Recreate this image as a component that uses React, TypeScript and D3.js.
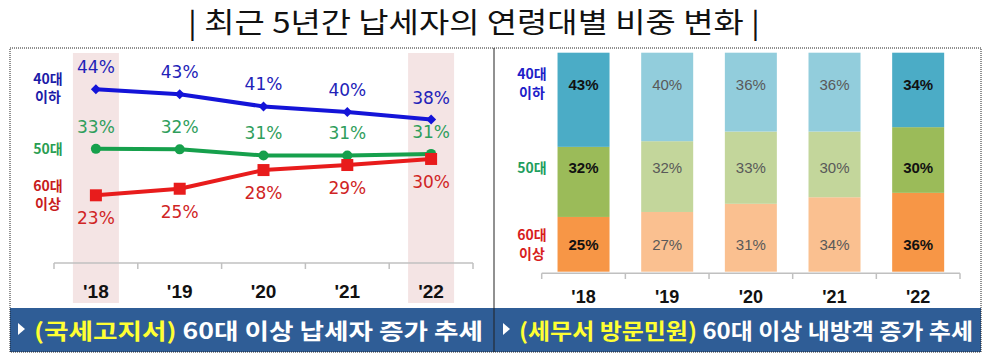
import React from "react";
import * as d3 from "d3";

// ---------- data ----------
const years = ["'18", "'19", "'20", "'21", "'22"];

// left chart: 국세고지서 share by age group (plotted values)
const lineUnder40 = [44, 43, 40.6, 39.5, 38];
const line50s = [32.2, 32.1, 30.9, 30.9, 31.2];
const line60plus = [23, 24.3, 28, 29, 30.2];
const labelUnder40 = ["44%", "43%", "41%", "40%", "38%"];
const label50s = ["33%", "32%", "31%", "31%", "31%"];
const label60plus = ["23%", "25%", "28%", "29%", "30%"];

// right chart: 세무서 방문민원 share by age group
const barUnder40 = [43, 40, 36, 36, 34];
const bar50s = [32, 32, 33, 30, 30];
const bar60plus = [25, 27, 31, 34, 36];

const highlightYears = ["'18", "'22"];

const titleText = "| 최근 5년간 납세자의 연령대별 비중 변화 |";
const footLeftYellow = "(국세고지서)";
const footLeftWhite = " 60대 이상 납세자 증가 추세";
const footRightYellow = "(세무서 방문민원)";
const footRightWhite = " 60대 이상 내방객 증가 추세";

// ---------- styles ----------
const KR = "'Noto Sans CJK KR', 'Noto Sans', sans-serif";
const NUM = "'DejaVu Sans', sans-serif";
const AR = "'Liberation Sans', Arial, sans-serif";
const FOOT_BG = "#2f5d96";
const SHADE = "#f4e4e4";
const AXIS = "#c0c0c0";

const seriesLeft = [
  { key: "u40", values: lineUnder40, labels: labelUnder40, line: "#1414d8", text: "#2222b8", marker: "diamond", above: true },
  { key: "s50", values: line50s, labels: label50s, line: "#16a04c", text: "#2f9e5c", marker: "circle", above: true },
  { key: "p60", values: line60plus, labels: label60plus, line: "#e81c1c", text: "#d02424", marker: "square", above: false },
];

const barColors = {
  dark: ["#f79646", "#9bbb59", "#4bacc6"],
  light: ["#fac090", "#c3d69b", "#92cddc"],
};

export default function App() {
  // ----- left chart scales -----
  const xL = d3.scaleBand<string>().domain(years).range([54, 473]).padding(0);
  const yL = d3.scaleLinear().domain([23, 44]).range([195.3, 89.3]);
  const lineGen = d3
    .line<number>()
    .x((_, i) => (xL(years[i]) as number) + xL.bandwidth() / 2)
    .y((d) => yL(d));
  const axisYL = 263;

  // ----- right chart scales -----
  const xR = d3.scaleBand<string>().domain(years).range([541.7, 960]).padding(0);
  const barW = 52;
  const yR = d3.scaleLinear().domain([0, 1]).range([271.7, 52.7]);
  const table = years.map((y, i) => ({ year: y, p60: bar60plus[i], s50: bar50s[i], u40: barUnder40[i] }));
  const stack = d3.stack<any>().keys(["p60", "s50", "u40"]).offset(d3.stackOffsetExpand);
  const stacked = stack(table);
  const barLabelRows = [244, 167.3, 84.3]; // p60, s50, u40 label rows
  const barLabels = [bar60plus, bar50s, barUnder40];

  const cxL = (i: number) => (xL(years[i]) as number) + xL.bandwidth() / 2;
  const cxR = (i: number) => (xR(years[i]) as number) + xR.bandwidth() / 2;

  const marker = (type: string, x: number, y: number, color: string, k: string) => {
    if (type === "diamond") {
      const s = 5;
      return <path key={k} d={`M${x},${y - s}L${x + s},${y}L${x},${y + s}L${x - s},${y}Z`} fill={color} />;
    }
    if (type === "circle") return <circle key={k} cx={x} cy={y} r={5} fill={color} />;
    return <rect key={k} x={x - 6} y={y - 6} width={12} height={12} fill={color} />;
  };

  return (
    <svg width={988} height={358} style={{ position: "absolute", left: 0, top: 0, background: "#fff" }}>
      <rect x={0} y={0} width={988} height={358} fill="#fff" />
      {/* title */}
      <text x={474} y={21} textAnchor="middle" dominantBaseline="central" fontFamily={KR} fontSize={28} fill="#111" textLength={572} lengthAdjust="spacingAndGlyphs">
        {titleText}
      </text>

      {/* ===== left panel ===== */}
      {highlightYears.map((y) => (
        <rect key={"sh" + y} x={(xL(y) as number) + xL.bandwidth() / 2 - 23} y={53} width={46} height={250} fill={SHADE} />
      ))}
      {/* axis */}
      <line x1={xL.range()[0]} x2={xL.range()[1]} y1={axisYL} y2={axisYL} stroke={AXIS} strokeWidth={1.5} />
      {years.map((y) => (
        <line key={"tl" + y} x1={xL(y)} x2={xL(y)} y1={axisYL} y2={axisYL + 6} stroke={AXIS} strokeWidth={1.5} />
      ))}
      <line x1={xL.range()[1]} x2={xL.range()[1]} y1={axisYL} y2={axisYL + 6} stroke={AXIS} strokeWidth={1.5} />
      {years.map((y, i) => (
        <text key={"yl" + y} x={cxL(i)} y={291} textAnchor="middle" dominantBaseline="central" fontFamily={AR} fontWeight="bold" fontSize={19} fill="#111">
          {y}
        </text>
      ))}
      {/* lines */}
      {seriesLeft.map((s) => (
        <g key={s.key}>
          <path d={lineGen(s.values) || ""} fill="none" stroke={s.line} strokeWidth={4} strokeLinejoin="round" />
          {s.values.map((v, i) => marker(s.marker, cxL(i), yL(v), s.line, s.key + i))}
          {s.values.map((v, i) => (
            <text key={s.key + "t" + i} x={cxL(i)} y={yL(v) + (s.above ? -22 : 23)} textAnchor="middle" dominantBaseline="central" fontFamily={NUM} fontSize={17} fill={s.text}>
              {s.labels[i]}
            </text>
          ))}
        </g>
      ))}
      {/* series names left */}
      <g fontFamily={KR} fontWeight="bold" fontSize={14} textAnchor="middle" dominantBaseline="central">
        <text x={48} y={78} fill="#1c1ca8">40대</text>
        <text x={48} y={96} fill="#1c1ca8">이하</text>
        <text x={48} y={148} fill="#2a9e52">50대</text>
        <text x={48} y={185} fill="#c81c1c">60대</text>
        <text x={48} y={203} fill="#c81c1c">이상</text>
      </g>

      {/* ===== right panel ===== */}
      {stacked.map((layer, li) => (
        <g key={layer.key}>
          {layer.map((d, i) => {
            const dark = highlightYears.includes(years[i]);
            return (
              <rect key={i} x={cxR(i) - barW / 2} y={yR(d[1])} width={barW} height={yR(d[0]) - yR(d[1])} fill={dark ? barColors.dark[li] : barColors.light[li]} />
            );
          })}
          {layer.map((d, i) => {
            const dark = highlightYears.includes(years[i]);
            return (
              <text key={"t" + i} x={cxR(i)} y={barLabelRows[li]} textAnchor="middle" dominantBaseline="central" fontFamily={AR} fontSize={15} fontWeight={dark ? "bold" : "normal"} fill={dark ? "#111" : "#595959"}>
                {barLabels[li][i]}%
              </text>
            );
          })}
        </g>
      ))}
      <line x1={xR.range()[0]} x2={xR.range()[1]} y1={273.3} y2={273.3} stroke={AXIS} strokeWidth={1.5} />
      {years.map((y) => (
        <line key={"tr" + y} x1={xR(y)} x2={xR(y)} y1={273.3} y2={279} stroke={AXIS} strokeWidth={1.5} />
      ))}
      <line x1={xR.range()[1]} x2={xR.range()[1]} y1={273.3} y2={279} stroke={AXIS} strokeWidth={1.5} />
      {years.map((y, i) => (
        <text key={"yr" + y} x={cxR(i)} y={297} textAnchor="middle" dominantBaseline="central" fontFamily={AR} fontWeight="bold" fontSize={18} fill="#111">
          {y}
        </text>
      ))}
      <g fontFamily={KR} fontWeight="bold" fontSize={14} textAnchor="middle" dominantBaseline="central">
        <text x={532} y={73} fill="#2020c8">40대</text>
        <text x={532} y={92} fill="#2020c8">이하</text>
        <text x={532} y={167} fill="#1e9e5e">50대</text>
        <text x={532} y={234} fill="#d81e1e">60대</text>
        <text x={532} y={253} fill="#d81e1e">이상</text>
      </g>

      {/* footers */}
      <rect x={10} y={308} width={484} height={44} fill={FOOT_BG} />
      <rect x={494} y={308} width={487} height={44} fill={FOOT_BG} />
      <path d="M18,323L25,329L18,335Z" fill="#fff" />
      <path d="M503,323L510,329L503,335Z" fill="#fff" />
      <text x={34} y={329} dominantBaseline="central" fontFamily={KR} fontWeight="bold" fontSize={22} textLength={449} lengthAdjust="spacingAndGlyphs">
        <tspan fill="#ffff33">{footLeftYellow}</tspan>
        <tspan fill="#fff">{footLeftWhite}</tspan>
      </text>
      <text x={519} y={329} dominantBaseline="central" fontFamily={KR} fontWeight="bold" fontSize={22} textLength={454} lengthAdjust="spacingAndGlyphs">
        <tspan fill="#ffff33">{footRightYellow}</tspan>
        <tspan fill="#fff">{footRightWhite}</tspan>
      </text>

      {/* dotted panel borders */}
      <rect x={10} y={48} width={484} height={304} fill="none" stroke="#222" strokeWidth={1} strokeDasharray="1,1" />
      <rect x={494} y={48} width={487} height={304} fill="none" stroke="#222" strokeWidth={1} strokeDasharray="1,1" />
    </svg>
  );
}
